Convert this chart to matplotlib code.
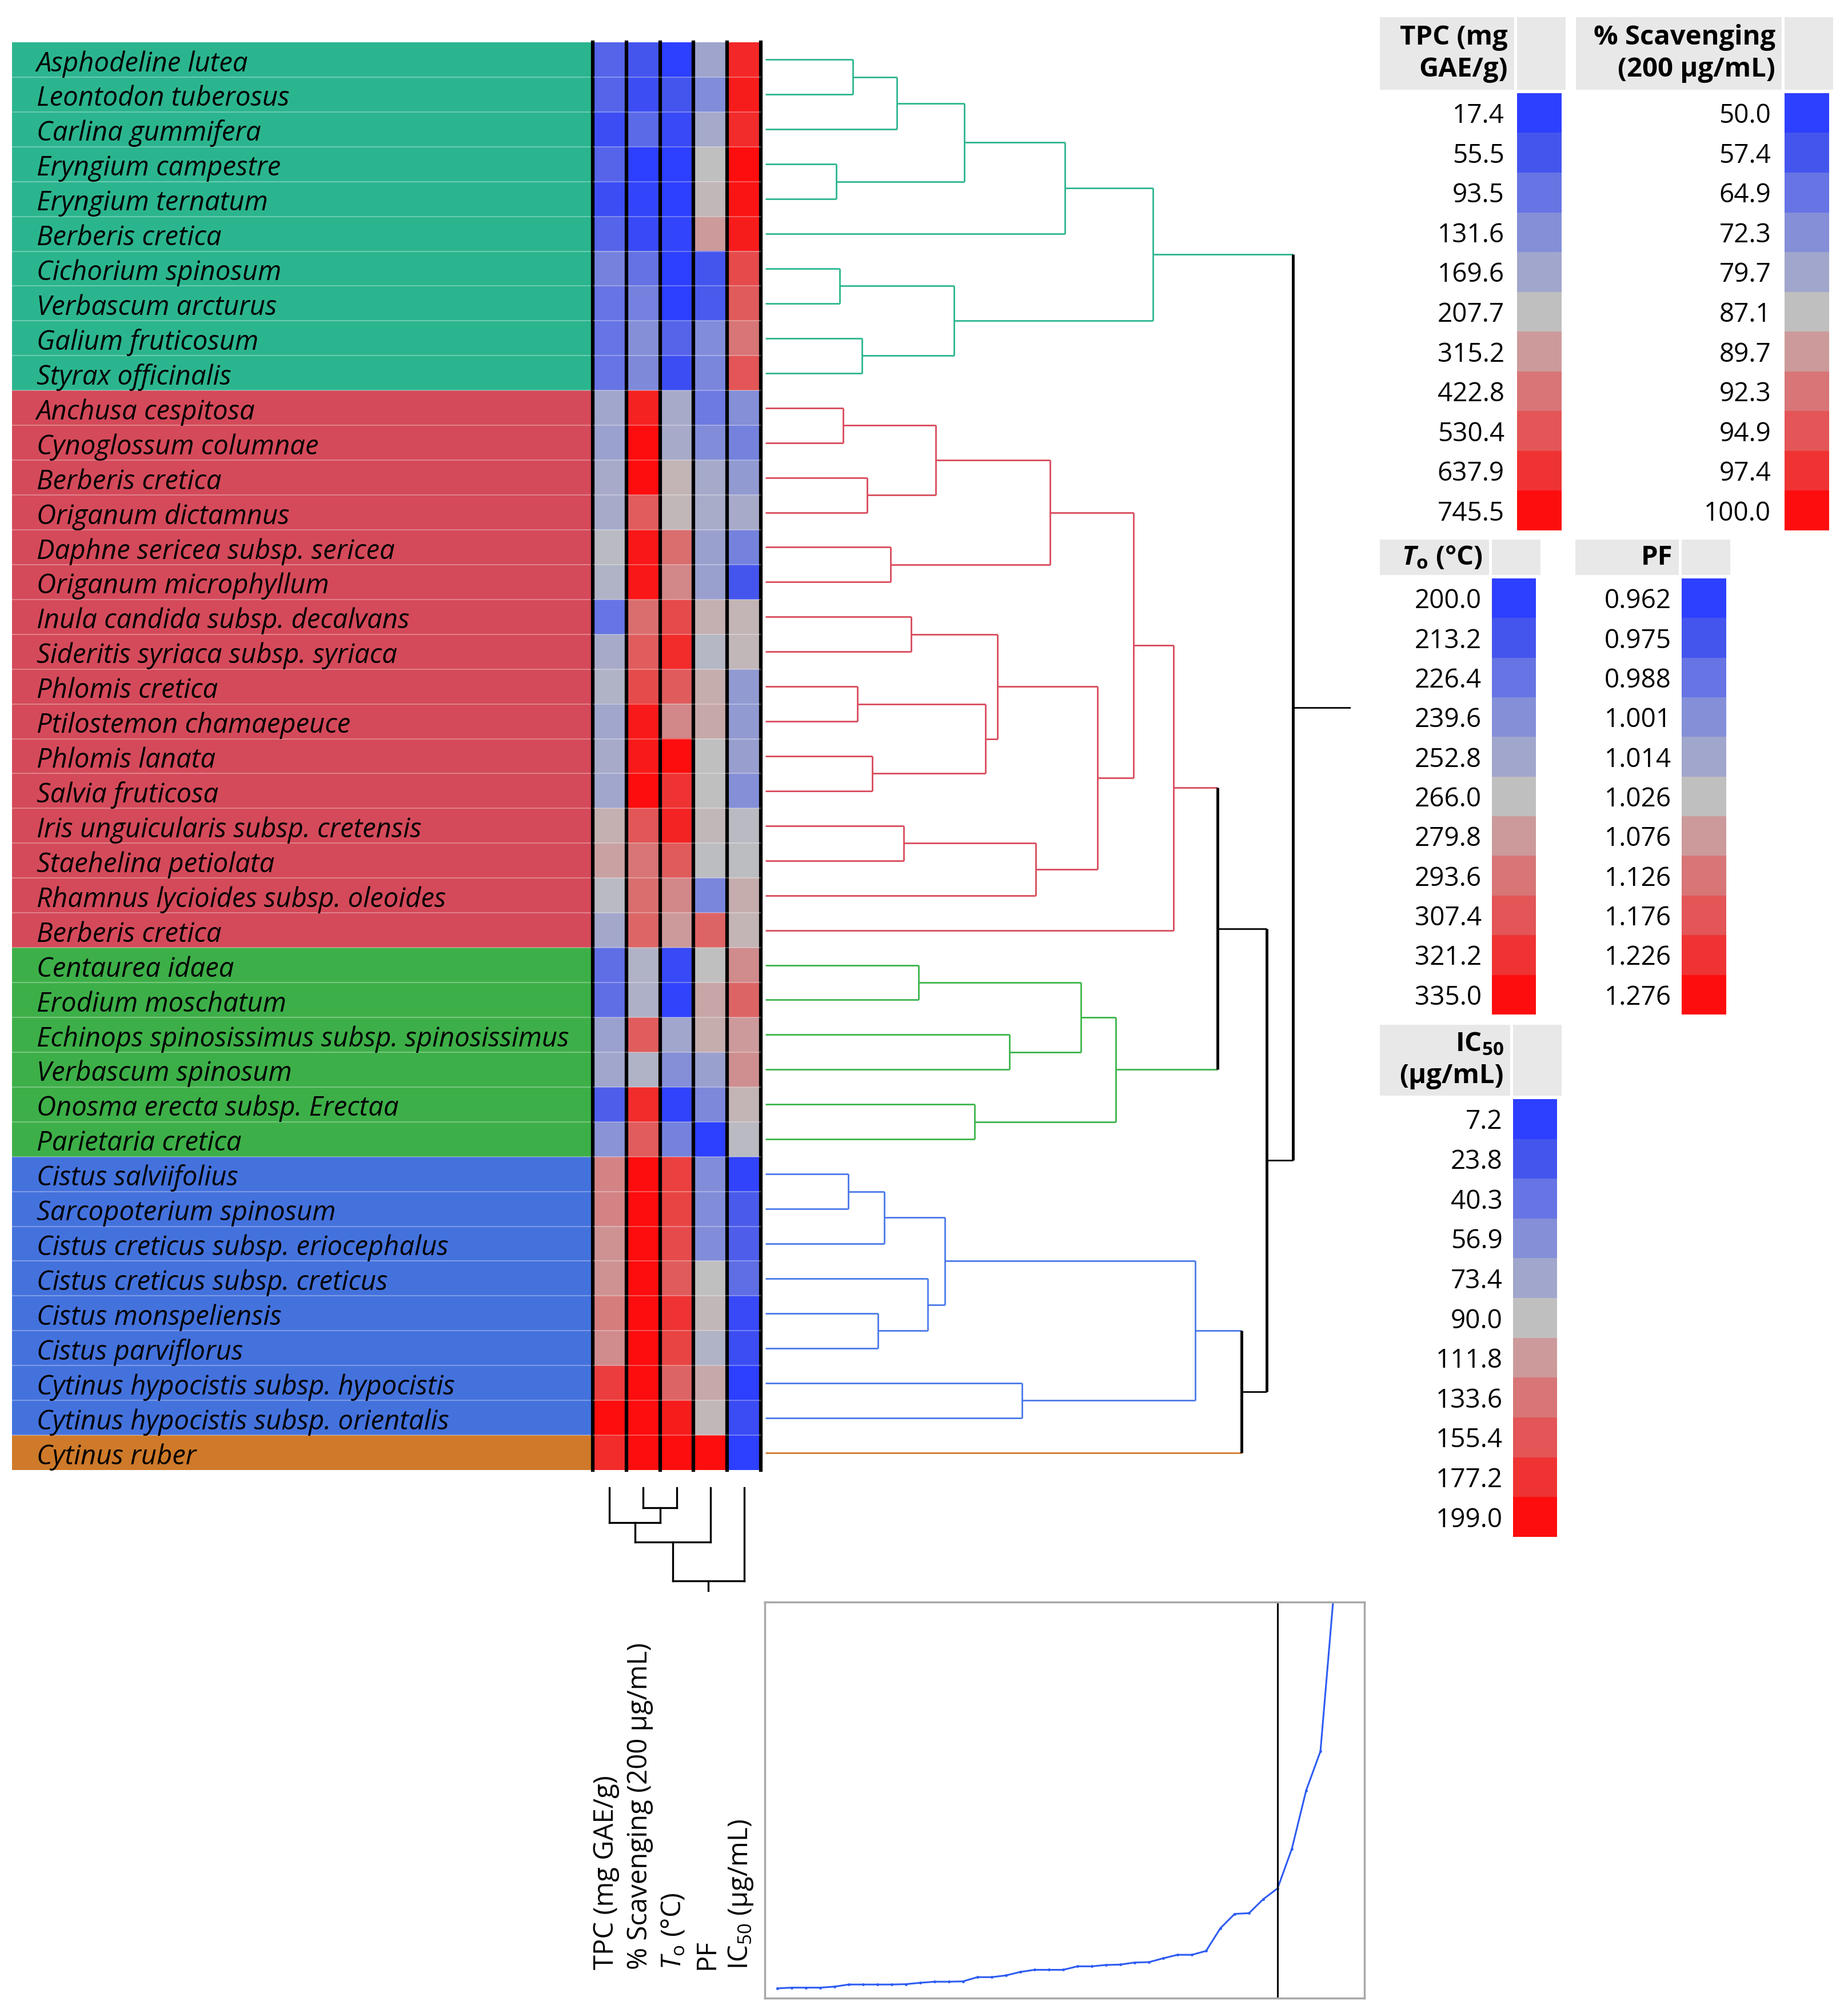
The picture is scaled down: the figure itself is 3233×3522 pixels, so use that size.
import numpy as np
import matplotlib
matplotlib.use("Agg")
import matplotlib.pyplot as plt
from matplotlib.colors import LinearSegmentedColormap
from matplotlib.transforms import blended_transform_factory

plt.rcParams['font.family'] = ['Open Sans', 'DejaVu Sans']
plt.rcParams['mathtext.fontset'] = 'custom'
plt.rcParams['mathtext.rm'] = 'Open Sans'
plt.rcParams['mathtext.it'] = 'Open Sans:italic'
plt.rcParams['mathtext.bf'] = 'Open Sans:bold'
try:
    plt.rcParams['mathtext.bfit'] = 'Open Sans:italic:bold'
except KeyError:
    pass

# ---------------- data ----------------
species = [
    "Asphodeline lutea", "Leontodon tuberosus", "Carlina gummifera",
    "Eryngium campestre", "Eryngium ternatum", "Berberis cretica",
    "Cichorium spinosum", "Verbascum arcturus", "Galium fruticosum",
    "Styrax officinalis", "Anchusa cespitosa", "Cynoglossum columnae",
    "Berberis cretica", "Origanum dictamnus", "Daphne sericea subsp. sericea",
    "Origanum microphyllum", "Inula candida subsp. decalvans",
    "Sideritis syriaca subsp. syriaca", "Phlomis cretica",
    "Ptilostemon chamaepeuce", "Phlomis lanata", "Salvia fruticosa",
    "Iris unguicularis subsp. cretensis", "Staehelina petiolata",
    "Rhamnus lycioides subsp. oleoides", "Berberis cretica",
    "Centaurea idaea", "Erodium moschatum",
    "Echinops spinosissimus subsp. spinosissimus", "Verbascum spinosum",
    "Onosma erecta subsp. Erectaa", "Parietaria cretica",
    "Cistus salviifolius", "Sarcopoterium spinosum",
    "Cistus creticus subsp. eriocephalus", "Cistus creticus subsp. creticus",
    "Cistus monspeliensis", "Cistus parviflorus",
    "Cytinus hypocistis subsp. hypocistis",
    "Cytinus hypocistis subsp. orientalis", "Cytinus ruber",
]
cluster = [0] * 10 + [1] * 16 + [2] * 6 + [3] * 8 + [4]

tpc = [74, 74, 44, 74, 44, 74, 113, 94, 94, 94, 170, 162, 177, 177, 200, 189,
       94, 177, 189, 170, 177, 170, 251, 294, 200, 173, 86, 86, 162, 170, 67,
       139, 380, 380, 337, 337, 401, 358, 606, 745, 660]
scav = [57.4, 55.2, 62.6, 50.0, 52.2, 53.7, 64.8, 68.6, 72.3, 70.8, 98.5,
        100.0, 100.0, 94.3, 99.2, 99.2, 92.8, 94.3, 95.6, 99.0, 99.0, 100.0,
        94.8, 92.3, 92.8, 93.6, 83.4, 82.6, 94.3, 83.4, 97.9, 94.3, 100.0,
        100.0, 100.0, 100.0, 100.0, 100.0, 100.0, 100.0, 100.0]
t_onset = [200, 213.2, 206.6, 200, 200, 204, 200, 200, 219.8, 209.2, 255.4,
           255.4, 270.1, 268.8, 296.4, 286.7, 311.5, 324.0, 304.6, 286.7, 335,
           321.2, 326.7, 304.6, 286.7, 279.8, 206.6, 202.6, 252.8, 239.6, 202.6,
           233, 315.7, 314.3, 311.5, 304.6, 321.2, 314.3, 300.5, 329.5, 335]
pf = [1.013, 1.000, 1.016, 1.026, 1.036, 1.076, 0.975, 0.977, 1.000, 0.997,
      0.991, 1.000, 1.016, 1.017, 1.011, 1.011, 1.046, 1.022, 1.051, 1.056,
      1.026, 1.026, 1.036, 1.025, 0.997, 1.151, 1.026, 1.061, 1.051, 1.011,
      0.998, 0.962, 1.000, 1.000, 1.000, 1.026, 1.036, 1.020, 1.056, 1.036,
      1.276]
ic50 = [183.7, 190.3, 181.6, 199.0, 194.6, 190.3, 161.9, 151.0, 133.6, 155.4,
        56.9, 48.6, 65.2, 76.8, 48.6, 23.8, 96.5, 94.4, 65.2, 65.2, 68.5, 56.9,
        86.7, 88.3, 100.9, 96.5, 120.5, 144.5, 111.8, 118.3, 96.5, 86.7, 10.5,
        27.1, 28.7, 37.0, 15.5, 18.8, 7.2, 17.1, 7.2]

tpc_ticks = [17.4, 55.5, 93.5, 131.6, 169.6, 207.7, 315.2, 422.8, 530.4, 637.9, 745.5]
scav_ticks = [50.0, 57.4, 64.9, 72.3, 79.7, 87.1, 89.7, 92.3, 94.9, 97.4, 100.0]
to_ticks = [200.0, 213.2, 226.4, 239.6, 252.8, 266.0, 279.8, 293.6, 307.4, 321.2, 335.0]
pf_ticks = [0.962, 0.975, 0.988, 1.001, 1.014, 1.026, 1.076, 1.126, 1.176, 1.226, 1.276]
ic50_ticks = [7.2, 23.8, 40.3, 56.9, 73.4, 90.0, 111.8, 133.6, 155.4, 177.2, 199.0]

columns = ["TPC (mg GAE/g)", "% Scavenging (200 μg/mL)",
           r"$\mathit{T}_\mathrm{o}$ (°C)", "PF", r"IC$_{50}$ (μg/mL)"]

# row dendrogram: (child a, child b, joining distance); new node ids start at 41
row_merges = [
    (0, 1, 218), (41, 2, 329), (3, 4, 177), (42, 43, 496), (44, 5, 748),
    (6, 7, 186), (8, 9, 241), (46, 47, 471), (45, 48, 967),
    (10, 11, 195), (12, 13, 254), (50, 51, 426), (14, 15, 313), (52, 53, 711),
    (16, 17, 364), (18, 19, 230), (20, 21, 267), (56, 57, 549), (55, 58, 579),
    (22, 23, 346), (60, 24, 675), (59, 61, 829), (54, 62, 919), (63, 25, 1018),
    (26, 27, 383), (28, 29, 609), (65, 66, 787), (30, 31, 522), (67, 68, 874),
    (64, 69, 1128),
    (32, 33, 207), (71, 34, 297), (36, 37, 282), (35, 73, 405), (72, 74, 448),
    (38, 39, 641), (75, 76, 1073), (77, 40, 1188), (70, 78, 1251),
    (49, 79, 1317),
]
row_root_stub = 1460

# column dendrogram (node ids start at 5)
col_merges = [(1, 2, 58), (0, 5, 100), (6, 3, 155), (7, 4, 267)]
col_root_stub = 295

# distance graph (joining distances, in % of plot height)
join_dist = [2.47, 2.65, 2.65, 2.65, 2.91, 3.44, 3.44, 3.44, 3.44, 3.53,
             3.88, 4.15, 4.15, 4.24, 5.30, 5.30, 5.74, 6.62, 7.15, 7.15,
             7.15, 8.03, 8.03, 8.38, 8.47, 9.00, 9.09, 10.06, 10.94, 10.94,
             11.92, 17.65, 21.27, 21.45, 24.98, 27.71, 37.69, 52.43, 62.31, 105.0]
n_clusters = 5

# ---------------- styles ----------------
band_colors = ['#2bb58f', '#d44a5a', '#3daf48', '#4472dd', '#cf7a2a']
link_colors = ['#2bb58f', '#d84a5b', '#3cb44a', '#4a78e8', '#d07a2b']
scale_colors = ['#2d3fff', '#4556ee', '#6674e4', '#8590d8', '#a1a6cc', '#c0c0c0',
                '#cc9a9b', '#d87677', '#e35556', '#ef3434', '#fd0d0d']
cmap = LinearSegmentedColormap.from_list('jmp', scale_colors)

W, H = 3233, 3522
fig = plt.figure(figsize=(W / 100, H / 100), dpi=100)


def px_axes(x0, y0, x1, y1):
    return fig.add_axes([x0 / W, 1 - y1 / H, (x1 - x0) / W, (y1 - y0) / H])


n = len(species)
rows = np.arange(n)

# label band
ax_band = px_axes(21, 74, 1037, 2572)
ax_band.barh(rows, 1, height=1.0, left=0, color=[band_colors[c] for c in cluster])
ax_band.set_xlim(0, 1)
ax_band.set_ylim(n - 0.5, -0.5)
ax_band.axis('off')
for i, name in enumerate(species):
    ax_band.text(0.042, i + 0.33, name, style='italic', fontsize=34,
                 va='baseline', ha='left')

# heatmap
ax_heat = px_axes(1037, 74, 1331, 2572)
data = [tpc, scav, t_onset, pf, ic50]
ticks = [tpc_ticks, scav_ticks, to_ticks, pf_ticks, ic50_ticks]
levels = np.column_stack([np.interp(v, t, np.arange(11)) / 10 for v, t in zip(data, ticks)])
ax_heat.imshow(cmap(levels), aspect='auto', interpolation='nearest',
               extent=(-0.5, 4.5, n - 0.5, -0.5))
for xb in np.arange(-0.5, 5.0, 1.0):
    ax_heat.axvline(xb, color='black', lw=4.5, clip_on=False)
ax_heat.set_xlim(-0.5, 4.5)
ax_heat.set_ylim(n - 0.5, -0.5)
ax_heat.axis('off')
for ax in (ax_band, ax_heat):
    for yb in np.arange(0.5, n - 1, 1.0):
        ax.axhline(yb, color='white', alpha=0.3, lw=1.5)

# column labels
tr = blended_transform_factory(ax_heat.transData, fig.transFigure)
for j, lab in enumerate(columns):
    ax_heat.text(j - 0.1, 1 - 3446 / H, lab, transform=tr, rotation=90,
                 ha='center', va='bottom', fontsize=34)


def tree_layout(merges, n_leaves):
    pos = {i: float(i) for i in range(n_leaves)}
    hgt = {i: 0.0 for i in range(n_leaves)}
    leaves = {i: {i} for i in range(n_leaves)}
    for k, (a, b, h) in enumerate(merges):
        node = n_leaves + k
        pos[node] = (pos[a] + pos[b]) / 2
        hgt[node] = h
        leaves[node] = leaves[a] | leaves[b]
    return pos, hgt, leaves


# row dendrogram
ax_den = px_axes(1338.6, 74, 2362.8, 2572)
pos, hgt, leaves = tree_layout(row_merges, n)


def node_color(node):
    cl = {cluster[i] for i in leaves[node]}
    return link_colors[cl.pop()] if len(cl) == 1 else 'black'


for k, (a, b, h) in enumerate(row_merges):
    node = n + k
    for child in (a, b):
        ax_den.plot([hgt[child], h], [pos[child], pos[child]],
                    color=node_color(child), lw=2, solid_capstyle='butt')
    col = node_color(node)
    ax_den.plot([h, h], [pos[a], pos[b]], color=col,
                lw=3.5 if col == 'black' else 2, solid_capstyle='butt')
root = n + len(row_merges) - 1
ax_den.plot([hgt[root], row_root_stub], [pos[root], pos[root]], color='black', lw=2)
ax_den.set_xlim(0, row_root_stub)
ax_den.set_ylim(n - 0.5, -0.5)
ax_den.axis('off')

# column dendrogram
ax_cden = px_axes(1037, 2603, 1331, 2783)
cpos, chgt, _ = tree_layout(col_merges, 5)
for k, (a, b, h) in enumerate(col_merges):
    for child in (a, b):
        ax_cden.plot([cpos[child], cpos[child]], [chgt[child], h], color='black',
                     lw=2.4, clip_on=False)
    ax_cden.plot([cpos[a], cpos[b]], [h, h], color='black', lw=2.4, clip_on=False)
croot = 5 + len(col_merges) - 1
ax_cden.plot([cpos[croot], cpos[croot]], [chgt[croot], col_root_stub],
             color='black', lw=2.4, clip_on=False)
ax_cden.set_xlim(-0.5, 4.5)
ax_cden.set_ylim(col_root_stub, 0)
ax_cden.axis('off')

# distance graph
ax_sc = px_axes(1337.5, 2803, 2386.8, 3496)
steps = np.arange(1, len(join_dist) + 1)
ax_sc.plot(steps, join_dist, color='#2e5cf2', lw=2.2, marker='.', ms=5)
ax_sc.axvline(len(join_dist) + 1 - n_clusters, color='black', lw=2.2)
ax_sc.set_xlim(0.104, 42.07)
ax_sc.set_ylim(0, 100)
ax_sc.set_xticks([])
ax_sc.set_yticks([])
for s in ax_sc.spines.values():
    s.set_color('#a8a8a8')
    s.set_linewidth(2.5)


# legends
def draw_legend(hx0, hx1, sx1, hy0, hy1, sy1, title, tick_vals, fmt, pad):
    sx0 = hx1 + 5
    ax_h = px_axes(hx0, hy0, hx1, hy1)
    ax_h.set_facecolor('#e8e8e8')
    ax_h.set_xticks([])
    ax_h.set_yticks([])
    for s in ax_h.spines.values():
        s.set_visible(False)
    ax_h.text(1 - 11 / (hx1 - hx0), 0.5, title, transform=ax_h.transAxes,
              ha='right', va='center', multialignment='right',
              fontsize=34, fontweight='bold', linespacing=1.25)
    ax_hs = px_axes(sx0, hy0, sx0 + 85, hy1)
    ax_hs.set_facecolor('#e8e8e8')
    ax_hs.set_xticks([])
    ax_hs.set_yticks([])
    for s in ax_hs.spines.values():
        s.set_visible(False)
    ax_s = px_axes(sx0, hy1 + 6, sx1, sy1)
    ax_s.imshow(cmap(np.linspace(0, 1, 11))[:, None, :], aspect='auto',
                interpolation='nearest')
    ax_s.set_xticks([])
    ax_s.set_yticks(range(11))
    ax_s.set_yticklabels([fmt % v for v in tick_vals], fontsize=33)
    ax_s.tick_params(length=0, pad=pad)
    for s in ax_s.spines.values():
        s.set_visible(False)


draw_legend(2414, 2649, 2732, 30, 157, 928, "TPC (mg\nGAE/g)", tpc_ticks, '%.1f', 16)
draw_legend(2757, 3117, 3200, 30, 157, 928, "% Scavenging\n(200 μg/mL)", scav_ticks, '%.1f', 17)
draw_legend(2414, 2605, 2687, 944, 1006, 1775, r"$\mathbfit{T}_\mathbf{o}$ (°C)", to_ticks, '%.1f', 13)
draw_legend(2756, 2937, 3020, 944, 1006, 1775, "PF", pf_ticks, '%.3f', 13)
draw_legend(2414, 2642, 2724, 1793, 1917, 2689, r"$\mathbf{IC}_\mathbf{50}$" + "\n(μg/mL)", ic50_ticks, '%.1f', 13)

fig.savefig("out.png", dpi=100)
